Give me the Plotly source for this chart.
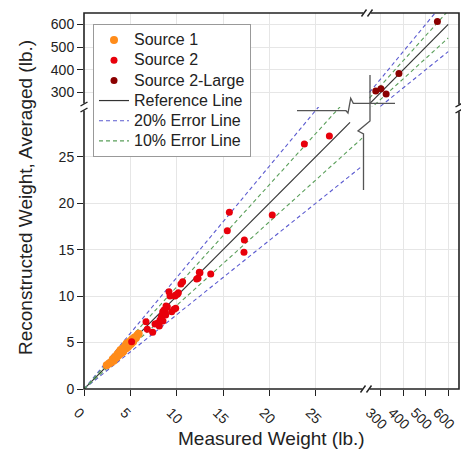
import plotly.graph_objects as go

# ---------------- data ----------------
src1_x = [2.45, 2.7, 2.9, 3.1, 3.2, 3.35, 3.5, 3.6, 3.7, 3.8, 3.9, 4.0, 4.05, 4.15, 4.25, 4.3, 4.4, 4.5,
          4.55, 4.65, 4.75, 4.8, 4.9, 5.0, 5.1, 5.2, 5.3, 5.45, 5.6, 5.75, 5.9, 4.2, 4.6, 3.95, 5.05]
src1_y = [2.55, 2.75, 2.85, 3.2, 3.05, 3.45, 3.4, 3.75, 3.6, 3.95, 3.8, 4.15, 3.9, 4.3, 4.1, 4.45, 4.35, 4.7,
          4.4, 4.8, 4.55, 5.0, 4.75, 5.15, 4.95, 5.35, 5.1, 5.55, 5.5, 5.8, 5.95, 4.0, 4.9, 4.2, 4.85]

src2_x = [5.14, 6.69, 6.83, 7.41, 7.66, 7.91, 8.12, 8.2, 8.34, 8.49, 8.63, 8.74, 8.81, 8.85, 8.99, 9.17,
          9.28, 9.46, 9.71, 9.82, 9.89, 10.07, 10.18, 10.46, 10.64, 12.16, 12.3, 12.44, 12.51, 13.67,
          15.46, 15.68, 17.26, 17.3, 20.31, 23.77, 26.47, 8.52, 9.89]
src2_y = [5.09, 7.25, 6.42, 6.10, 7.0, 7.07, 6.78, 7.43, 7.78, 8.32, 8.5, 8.4, 7.97, 8.93, 8.86, 10.47,
          10.01, 8.32, 8.58, 10.01, 8.69, 10.19, 10.37, 11.30, 11.55, 11.84, 11.92, 12.56, 12.52, 12.38,
          17.04, 19.02, 14.71, 16.04, 18.73, 26.37, 27.23, 7.32, 10.12]

src2L_x = [278, 301, 324, 381, 552]
src2L_y = [306, 316, 293, 383, 613]

ref_lo_x = [0, 28.7]
err_lo_x = [0, 30]
ref_hi_x = [250, 600]
err_hi_x = [250, 600]
err20 = [1.2, 0.8]
err10 = [1.1, 0.9]

x_lo_ticks = [0, 5, 10, 15, 20, 25]
x_hi_ticks = [300, 400, 500, 600]
y_lo_ticks = [0, 5, 10, 15, 20, 25]
y_hi_ticks = [300, 400, 500, 600]

# ---------------- layout helpers ----------------
W, H = 461, 458
L, R, T, B = 84, 459, 13, 389


def px(x):
    return (x - L) / (R - L)


def py(y):
    return (B - y) / (B - T)


XBRK = px(367)
YBRK = py(107)

FONT = "Liberation Sans, Arial, sans-serif"
REF_C = "#333333"
BLUE = "#5b5bd0"
GREEN = "#5a9f5a"


def lg(name):
    return f'<span style="font-size:16px">{name}</span>'


def band(xs, factors):
    X, Y = [], []
    for f in factors:
        X += [xs[0], xs[1], None]
        Y += [xs[0] * f, xs[1] * f, None]
    return X, Y


fig = go.Figure()

for (xs_ref, xs_err, xa, ya, show) in [(ref_lo_x, err_lo_x, "x", "y", True),
                                       (ref_hi_x, err_hi_x, "x2", "y2", False)]:
    fig.add_trace(go.Scatter(x=xs_ref, y=xs_ref, mode="lines", name=lg("Reference Line"),
                             line=dict(color=REF_C, width=1.2), xaxis=xa, yaxis=ya,
                             showlegend=show, legendrank=4))
    bx, by = band(xs_err, err20)
    fig.add_trace(go.Scatter(x=bx, y=by, mode="lines", name=lg("20% Error Line"),
                             line=dict(color=BLUE, width=1.1, dash="4px,3px"), xaxis=xa, yaxis=ya,
                             showlegend=show, legendrank=5))
    bx, by = band(xs_err, err10)
    fig.add_trace(go.Scatter(x=bx, y=by, mode="lines", name=lg("10% Error Line"),
                             line=dict(color=GREEN, width=1.1, dash="4px,3px"), xaxis=xa, yaxis=ya,
                             showlegend=show, legendrank=6))

fig.add_trace(go.Scatter(x=src1_x, y=src1_y, mode="markers", name=lg("Source 1"),
                         marker=dict(color="#ff8c1a", size=8), xaxis="x", yaxis="y", legendrank=1))
fig.add_trace(go.Scatter(x=src2_x, y=src2_y, mode="markers", name=lg("Source 2"),
                         marker=dict(color="#e8000b", size=7), xaxis="x", yaxis="y", legendrank=2))
fig.add_trace(go.Scatter(x=src2L_x, y=src2L_y, mode="markers", name=lg("Source 2-Large"),
                         marker=dict(color="#8b0000", size=7), xaxis="x2", yaxis="y2", legendrank=3))

# dummy traces so gridlines are drawn in the off-diagonal panels
fig.add_trace(go.Scatter(x=[None], y=[None], xaxis="x", yaxis="y2", showlegend=False, hoverinfo="skip"))
fig.add_trace(go.Scatter(x=[None], y=[None], xaxis="x2", yaxis="y", showlegend=False, hoverinfo="skip"))

GRID = "#e6e6e6"
axcommon = dict(showgrid=True, gridcolor=GRID, gridwidth=1, zeroline=False, showline=False,
                automargin=False,
                ticks="outside", ticklen=6, tickwidth=1.3, tickcolor="#222",
                tickfont=dict(family=FONT, size=14, color="#222"))
xcommon = dict(tickangle=45, ticklabeloverflow="allow", ticklabelstandoff=3, anchor="y")

fig.update_layout(
    width=W, height=H,
    margin=dict(l=L, r=W - R, t=T, b=H - B, autoexpand=False),
    paper_bgcolor="white", plot_bgcolor="white",
    font=dict(family=FONT, color="#222"),
    showlegend=True,
    legend=dict(x=px(93), y=py(24), xanchor="left", yanchor="top",
                bgcolor="white", bordercolor="#999", borderwidth=1,
                font=dict(family=FONT, size=13.2, color="#222"), tracegroupgap=0),
    xaxis=dict(domain=[0, XBRK], range=[0, 30.53], tickvals=x_lo_ticks, ticklabelshift=-6,
               **xcommon, **axcommon),
    xaxis2=dict(domain=[XBRK, 1], range=[239, 648], tickvals=x_hi_ticks, ticklabelshift=-11,
                **xcommon, **axcommon),
    yaxis=dict(domain=[0, YBRK], range=[0, 30.36], tickvals=y_lo_ticks, anchor="x", **axcommon),
    yaxis2=dict(domain=[YBRK, 1], range=[236, 650], tickvals=y_hi_ticks, anchor="x", **axcommon),
)

shapes = []
# frame
shapes.append(dict(type="rect", xref="paper", yref="paper", x0=0, y0=0, x1=1, y1=1,
                   line=dict(color="#222", width=1.6), layer="above"))


def path(pts):
    s = "M " + " L ".join(f"{px(a):.5f},{py(b):.5f}" for a, b in pts)
    return s


def brk_h(xc, yc):
    out = [dict(type="path", xref="paper", yref="paper",
                path=path([(xc - 3.5, yc), (xc + 3.5, yc)]), line=dict(color="white", width=4), layer="above")]
    for dx in (-3, 3):
        out.append(dict(type="path", xref="paper", yref="paper",
                        path=path([(xc + dx - 2.5, yc + 3.5), (xc + dx + 2.5, yc - 3.5)]),
                        line=dict(color="#222", width=1.4), layer="above"))
    return out


def brk_v(xc, yc):
    out = [dict(type="path", xref="paper", yref="paper",
                path=path([(xc, yc - 3.5), (xc, yc + 3.5)]), line=dict(color="white", width=4), layer="above")]
    for dy in (-3, 3):
        out.append(dict(type="path", xref="paper", yref="paper",
                        path=path([(xc - 3.5, yc + dy + 2), (xc + 3.5, yc + dy - 2)]),
                        line=dict(color="#222", width=1.4), layer="above"))
    return out


shapes += brk_h(367, T)
shapes += brk_h(366, B)
shapes += brk_v(L, 107)
shapes += brk_v(R, 108)

# break connector marks in the middle
shapes.append(dict(type="path", xref="paper", yref="paper",
                   path=path([(297, 110.7), (346, 110.7), (348, 113), (350.7, 98.3), (353.3, 103.3), (395, 103.3)]),
                   line=dict(color="#555", width=1.3), layer="above"))
shapes.append(dict(type="path", xref="paper", yref="paper",
                   path=path([(370, 75), (370, 121), (358, 131), (363.5, 134), (363.5, 190)]),
                   line=dict(color="#555", width=1.3), layer="above"))

fig.update_layout(shapes=shapes)

fig.add_annotation(text="Measured Weight (lb.)", xref="paper", yref="paper", x=0.5, y=py(438),
                   xanchor="center", yanchor="middle", showarrow=False,
                   font=dict(family=FONT, size=19, color="#222"))
fig.add_annotation(text="Reconstructed Weight, Averaged (lb.)", xref="paper", yref="paper",
                   x=px(25), y=py(198), xanchor="center", yanchor="middle", textangle=-90,
                   showarrow=False, font=dict(family=FONT, size=19, color="#222"))

fig.write_html("out.html", config={"displayModeBar": False},
               post_script="document.body.style.margin='0';document.body.style.padding='0';")
